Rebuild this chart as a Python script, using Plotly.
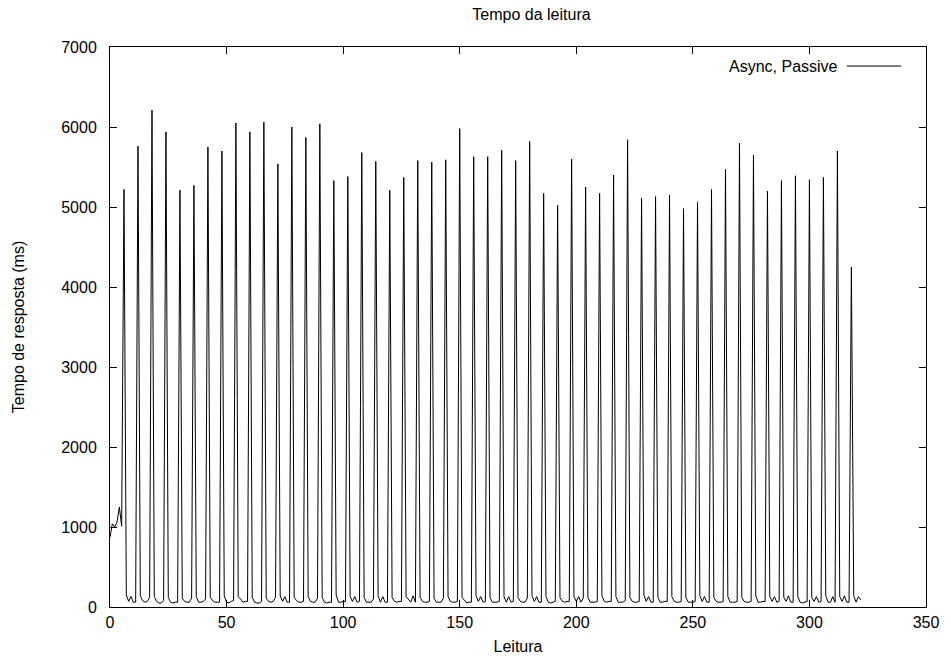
import plotly.graph_objects as go

# Initial readings before the first peak (x = 0..5)
start_values = [870, 1040, 1000, 1060, 1250, 1010]

# Peak values, one every 6 readings (x = 6, 12, ..., 318)
peak_values = [
    5220, 5760, 6210, 5940, 5210, 5270, 5750, 5700, 6050, 5940, 6060,
    5540, 6000, 5870, 6040, 5330, 5380, 5680, 5570, 5210, 5370, 5580, 5560,
    5590, 5980, 5630, 5630, 5710, 5580, 5820, 5170, 5020, 5600, 5250, 5170,
    5400, 5840, 5110, 5130, 5150, 4980, 5060, 5220, 5470, 5800, 5650,
    5200, 5330, 5390, 5340, 5370, 5700, 4250,
]

# Baseline readings following each peak
baseline_values = [
    [150, 70, 130, 60, 60],
    [140, 80, 60, 70, 120],
    [130, 70, 50, 50, 80],
    [120, 60, 50, 60, 60],
    [110, 70, 60, 60, 110],
    [130, 60, 60, 70, 100],
    [120, 80, 60, 60, 60],
    [140, 60, 50, 70, 80],
    [130, 100, 60, 70, 70],
    [120, 60, 50, 50, 70],
    [110, 70, 60, 70, 120],
    [140, 70, 130, 60, 60],
    [120, 80, 60, 60, 70],
    [130, 70, 60, 60, 110],
    [120, 60, 50, 60, 60],
    [150, 60, 60, 70, 70],
    [130, 70, 130, 60, 70],
    [120, 60, 60, 60, 100],
    [140, 60, 130, 60, 60],
    [120, 70, 60, 70, 70],
    [130, 100, 60, 140, 60],
    [120, 70, 60, 60, 70],
    [110, 60, 60, 60, 110],
    [130, 70, 60, 60, 70],
    [120, 80, 50, 60, 60],
    [140, 70, 130, 60, 70],
    [120, 60, 60, 60, 70],
    [130, 60, 130, 60, 70],
    [120, 70, 60, 60, 110],
    [140, 70, 130, 60, 60],
    [130, 60, 50, 60, 70],
    [120, 70, 60, 70, 70],
    [130, 70, 130, 60, 110],
    [120, 60, 60, 60, 70],
    [140, 70, 60, 70, 70],
    [130, 60, 60, 60, 80],
    [120, 70, 60, 60, 70],
    [150, 70, 130, 60, 60],
    [120, 60, 60, 70, 70],
    [130, 70, 60, 60, 70],
    [120, 60, 60, 60, 70],
    [140, 70, 130, 60, 60],
    [120, 70, 60, 60, 70],
    [130, 60, 60, 60, 70],
    [120, 70, 60, 60, 70],
    [140, 60, 60, 70, 70],
    [130, 70, 130, 60, 70],
    [120, 70, 140, 60, 60],
    [130, 60, 50, 60, 70],
    [120, 70, 130, 60, 70],
    [140, 60, 60, 130, 60],
    [130, 70, 140, 60, 60],
    [140, 60, 130, 90],
]

y_values = list(start_values)
for peak, base in zip(peak_values, baseline_values):
    y_values.append(peak)
    y_values.extend(base)
x_values = list(range(len(y_values)))

x_ticks = [0, 50, 100, 150, 200, 250, 300, 350]
y_ticks = [0, 1000, 2000, 3000, 4000, 5000, 6000, 7000]

FONT = "Liberation Sans, Arial, Helvetica, sans-serif"
FS = 16

fig = go.Figure()
fig.add_trace(go.Scatter(
    x=x_values, y=y_values, mode="lines",
    line=dict(color="black", width=1),
    name="Async, Passive", showlegend=False,
))

axis_common = dict(
    showgrid=False, zeroline=False,
    showline=True, linecolor="black", linewidth=1,
    mirror="allticks", ticks="inside", ticklen=7, tickcolor="black", tickwidth=1,
    tickfont=dict(family=FONT, size=FS, color="black"),
)

fig.update_xaxes(
    range=[0, 350], tickvals=x_ticks, ticktext=[str(v) for v in x_ticks],
    title=dict(text="Leitura", font=dict(family=FONT, size=FS, color="black"), standoff=10),
    ticklabelstandoff=1,
    **axis_common,
)
fig.update_yaxes(
    range=[0, 7000], tickvals=y_ticks, ticktext=[str(v) for v in y_ticks],
    title=dict(text="Tempo de resposta (ms)", font=dict(family=FONT, size=FS, color="black"), standoff=32),
    ticklabelstandoff=9,
    **axis_common,
)

# Legend drawn gnuplot-style: label then line sample
fig.add_annotation(
    x=0.895, y=0.966, xref="paper", yref="paper", xanchor="right", yanchor="middle",
    text="Async, Passive", showarrow=False,
    font=dict(family=FONT, size=FS, color="black"),
)
fig.add_shape(
    type="line", xref="paper", yref="paper",
    x0=0.9028, x1=0.9696, y0=0.966, y1=0.966,
    line=dict(color="black", width=1),
)

fig.update_layout(
    width=951, height=664,
    margin=dict(l=110, r=18, t=47, b=57),
    paper_bgcolor="white", plot_bgcolor="white",
    title=dict(
        text="Tempo da leitura", x=0.5165, xref="paper", xanchor="center",
        y=1 - 14 / 664, yref="container", yanchor="middle",
        font=dict(family=FONT, size=FS, color="black"),
    ),
    font=dict(family=FONT, size=FS, color="black"),
)

fig.write_html(
    "out.html",
    config={"displayModeBar": False},
    post_script="document.body.style.margin='0';document.body.style.overflow='hidden';",
)
